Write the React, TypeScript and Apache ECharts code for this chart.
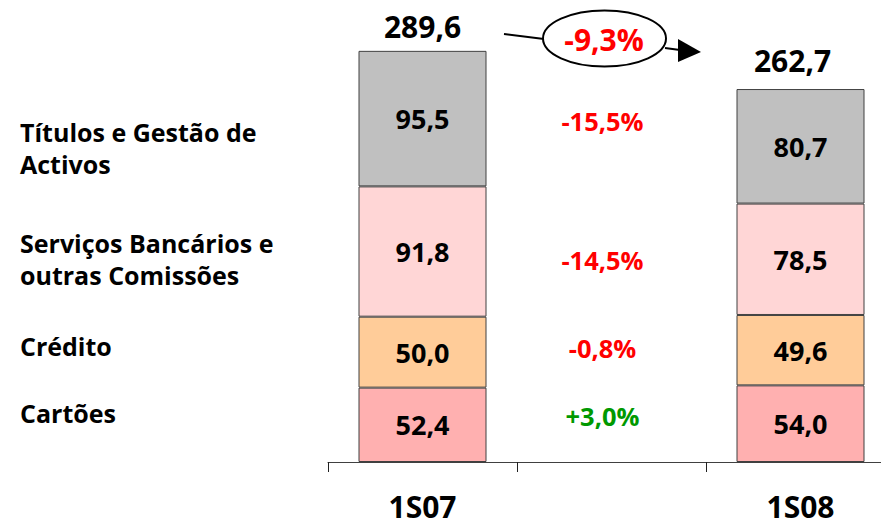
import React, { useEffect, useRef } from "react";
import * as echarts from "echarts";

// ---- data ----
const categories = ["1S07", "", "1S08"];
const seriesNames = ["Cartões", "Crédito", "Serviços Bancários e\noutras Comissões", "Títulos e Gestão de\nActivos"];
const cartoes = [52.4, null, 54.0];
const credito = [50.0, null, 49.6];
const servicos = [91.8, null, 78.5];
const titulos = [95.5, null, 80.7];
const totals = [289.6, null, 262.7];
// percentage change per component (Cartões, Crédito, Serviços, Títulos)
const changes = [3.0, -0.8, -14.5, -15.5];
// vertical anchor (in axis units) where each change label sits in the middle column
const changeAnchor = [32.5, 80, 142.5, 240];
const totalChange = -9.3;

const colors = ["#FFB0B0", "#FFCC99", "#FFD6D6", "#C0C0C0"];
const FONT = "'Open Sans', 'Noto Sans', sans-serif";

const fmt = (v: number) => v.toFixed(1).replace(".", ",");
const fmtPct = (v: number) => (v > 0 ? "+" : "") + v.toFixed(1).replace(".", ",") + "%";

export default function App() {
  const ref = useRef<HTMLDivElement>(null);
  useEffect(() => {
    if (!ref.current) return;
    const chart = echarts.init(ref.current, undefined, { renderer: "svg" });
    const axisBottom = 462;
    const plotH = 300 * 1.4192;
    const stackData = [cartoes, credito, servicos, titulos];
    const barSeries = stackData.map((arr, i) => ({
      type: "bar",
      name: seriesNames[i],
      stack: "total",
      barWidth: 128,
      data: arr.map((v) => (v == null ? "-" : v)),
      itemStyle: { color: colors[i], borderColor: "#404040", borderWidth: 1 },
      label: {
        show: true,
        position: "inside",
        formatter: (p: any) => fmt(p.value),
        fontFamily: FONT,
        fontWeight: "bold",
        fontSize: 27,
        color: "#000",
      },
    }));

    const leftLabelY = [412.5, 346, 258.5, 147.5];

    chart.setOption({
      animation: false,
      grid: { left: 328, width: 567, top: axisBottom - plotH, height: plotH },
      xAxis: {
        type: "category",
        data: categories,
        boundaryGap: true,
        axisLine: { lineStyle: { color: "#404040", width: 1 } },
        axisTick: { show: true, length: 10, alignWithLabel: false, lineStyle: { color: "#202020" } },
        axisLabel: {
          margin: 29,
          fontFamily: FONT,
          fontWeight: "bold",
          fontSize: 30,
          lineHeight: 30,
          color: "#000",
          interval: 0,
        },
      },
      yAxis: { type: "value", min: 0, max: 300, show: false, splitLine: { show: false } },
      series: [
        ...barSeries,
        {
          type: "scatter",
          symbolSize: 0,
          itemStyle: { color: "transparent", opacity: 1 },
          data: totals
            .map((v, i) => (v == null ? null : { value: [i, v], label: i === 2 ? { offset: [-8, -5] } : {} }))
            .filter((d) => d),
          label: {
            show: true,
            position: "top",
            distance: 9,
            formatter: (p: any) => fmt(p.value[1]),
            fontFamily: FONT,
            fontWeight: "bold",
            fontSize: 30,
            color: "#000",
          },
          z: 5,
        },
        {
          type: "scatter",
          symbolSize: 0,
          itemStyle: { color: "transparent", opacity: 1 },
          data: changes.map((c, i) => ({
            value: [1, changeAnchor[i]],
            label: { color: c >= 0 ? "#009900" : "#FF0000" },
          })),
          label: {
            show: true,
            position: "inside",
            offset: [-9, 0],
            formatter: (p: any) => fmtPct(changes[p.dataIndex]),
            fontFamily: FONT,
            fontWeight: "bold",
            fontSize: 25.5,
          },
          z: 5,
        },
      ],
      graphic: [
        ...seriesNames.map((n, i) => ({
          type: "text",
          x: 20,
          y: leftLabelY[i],
          style: {
            text: n,
            fontFamily: FONT,
            fontWeight: "bold",
            fontSize: 25,
            lineHeight: 32,
            fill: "#000",
            align: "left",
            verticalAlign: "middle",
          },
        })),
        {
          type: "line",
          shape: { x1: 504, y1: 34, x2: 544, y2: 39 },
          style: { stroke: "#000", lineWidth: 2 },
        },
        {
          type: "ellipse",
          shape: { cx: 604.5, cy: 38.5, rx: 61.5, ry: 28 },
          style: { fill: "#fff", stroke: "#000", lineWidth: 2 },
        },
        {
          type: "line",
          shape: { x1: 665, y1: 48, x2: 680, y2: 50 },
          style: { stroke: "#000", lineWidth: 2 },
        },
        {
          type: "polygon",
          shape: { points: [[678, 39], [701, 52], [678, 62]] },
          style: { fill: "#000" },
        },
        {
          type: "text",
          x: 604,
          y: 39.5,
          style: {
            text: fmtPct(totalChange),
            fontFamily: FONT,
            fontWeight: "bold",
            fontSize: 30,
            fill: "#FF0000",
            align: "center",
            verticalAlign: "middle",
          },
        },
      ],
    });
    return () => chart.dispose();
  }, []);
  return (
    <div
      ref={ref}
      style={{ position: "fixed", left: 0, top: 0, width: 900, height: 522, background: "#fff" }}
    />
  );
}
